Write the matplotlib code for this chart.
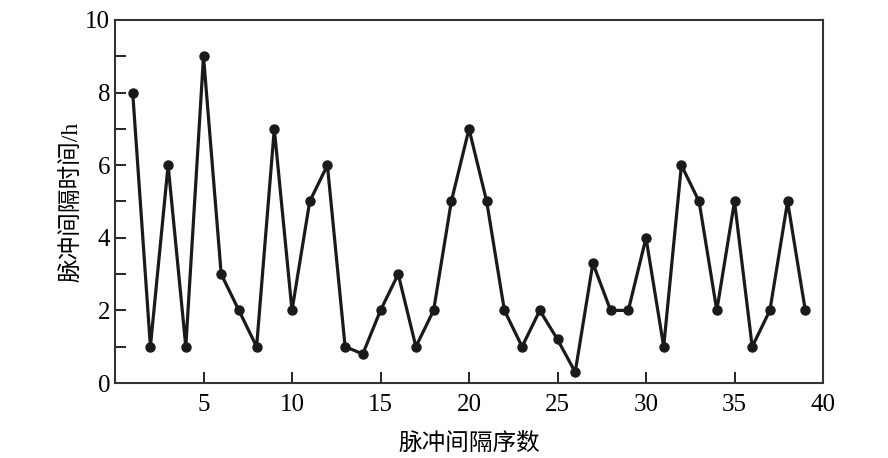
import matplotlib
matplotlib.use('Agg')
import matplotlib.pyplot as plt
from matplotlib.ticker import MultipleLocator

plt.rcParams['font.family'] = ['Liberation Serif', 'Noto Sans CJK SC']
plt.rcParams['mathtext.fontset'] = 'stix'

# pulse interval index and interval time (h)
idx = list(range(1, 40))
hours = [8, 1, 6, 1, 9, 3, 2, 1, 7, 2,
         5, 6, 1, 0.8, 2, 3, 1, 2, 5, 7,
         5, 2, 1, 2, 1.2, 0.3, 3.3, 2, 2, 4,
         1, 6, 5, 2, 5, 1, 2, 5, 2]

fig = plt.figure(figsize=(8.88, 4.58), dpi=100)
ax = fig.add_axes([115/888, 1 - 383/458, (823-115)/888, (383-20)/458])

ax.plot(idx, hours, color='#1a1a1a', linewidth=2.3, marker='o', markersize=6.5,
        markerfacecolor='#1a1a1a', markeredgecolor='#1a1a1a')

ax.set_xlim(0, 40)
ax.set_ylim(0, 10)
ax.set_xticks([5, 10, 15, 20, 25, 30, 35, 40])
ax.set_yticks([0, 2, 4, 6, 8, 10])
ax.yaxis.set_minor_locator(MultipleLocator(1))
ax.tick_params(axis='both', which='both', direction='in', labelsize=18,
               top=False, right=False)
ax.tick_params(which='major', length=8, width=1.2)
ax.tick_params(which='minor', length=8, width=1.2)
ax.tick_params(axis='x', pad=8)
for s in ax.spines.values():
    s.set_linewidth(1.5)
    s.set_color('#333333')

ax.set_xlabel('脉冲间隔序数', fontsize=17, labelpad=12)
ax.set_ylabel('脉冲间隔时间/h', fontsize=17, labelpad=2)

fig.savefig('out.png', dpi=100)
